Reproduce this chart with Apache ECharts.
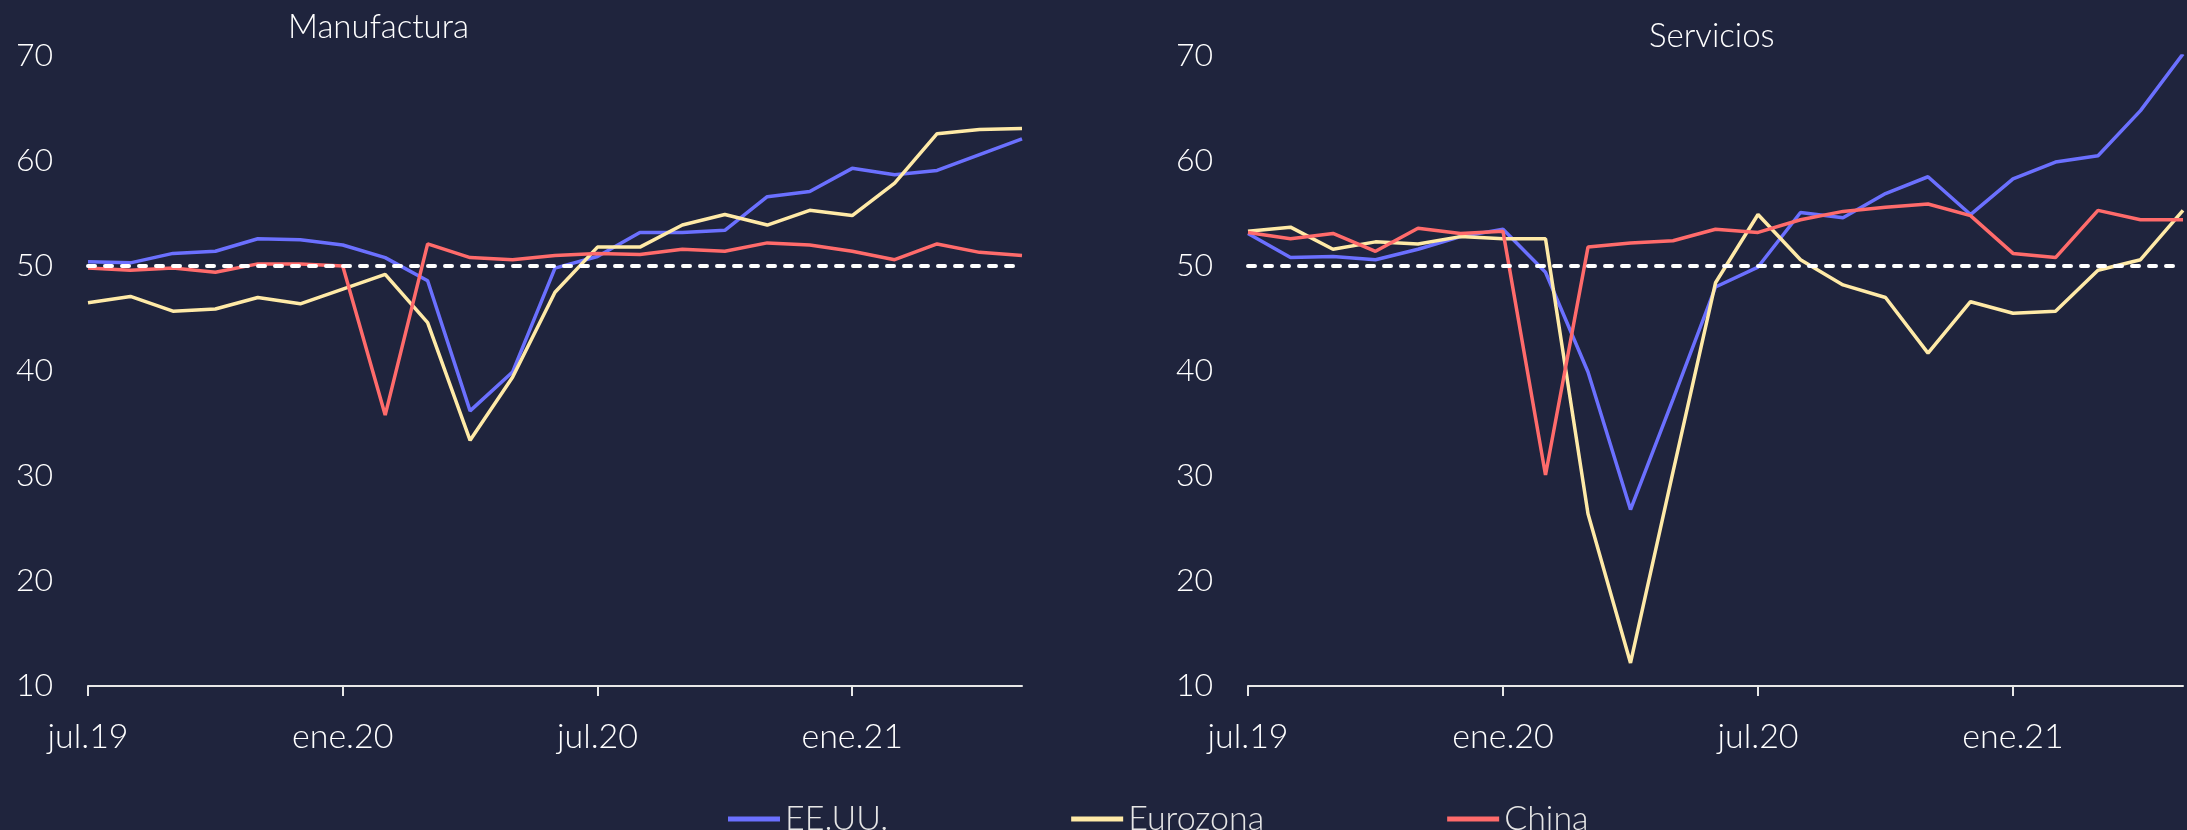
<!DOCTYPE html>
<html>
<head>
<meta charset="utf-8">
<script src="https://cdn.jsdelivr.net/npm/echarts@6/dist/echarts.min.js"></script>
<style>
  html, body { margin: 0; padding: 0; background: #1f243d; }
  #chart { width: 2187px; height: 830px; }
</style>
</head>
<body>
<div id="chart"></div>
<script>
const months = ['jul.19', 'ago.19', 'sep.19', 'oct.19', 'nov.19', 'dic.19', 'ene.20', 'feb.20', 'mar.20', 'abr.20', 'may.20', 'jun.20',
  'jul.20', 'ago.20', 'sep.20', 'oct.20', 'nov.20', 'dic.20', 'ene.21', 'feb.21', 'mar.21', 'abr.21', 'may.21'];

// Manufactura
const usManuf = [50.4, 50.3, 51.2, 51.4, 52.6, 52.5, 52.0, 50.8, 48.6, 36.2, 39.9, 49.8, 50.9, 53.2, 53.2, 53.4, 56.6, 57.1, 59.3, 58.7, 59.1, 60.6, 62.1];
const euManuf = [46.5, 47.1, 45.7, 45.9, 47.0, 46.4, 47.8, 49.2, 44.6, 33.4, 39.4, 47.5, 51.8, 51.8, 53.9, 54.9, 53.9, 55.3, 54.8, 57.9, 62.6, 63.0, 63.1];
const cnManuf = [49.8, 49.6, 49.8, 49.4, 50.2, 50.2, 50.0, 35.8, 52.1, 50.8, 50.6, 51.0, 51.2, 51.1, 51.6, 51.4, 52.2, 52.0, 51.4, 50.6, 52.1, 51.3, 51.0];

// Servicios
const usServ = [53.1, 50.8, 50.9, 50.6, 51.6, 52.8, 53.5, 49.4, 39.9, 26.8, 37.3, 48.0, 49.9, 55.1, 54.6, 56.9, 58.5, 54.9, 58.3, 59.9, 60.5, 64.8, 70.2];
const euServ = [53.3, 53.7, 51.6, 52.3, 52.1, 52.8, 52.6, 52.6, 26.4, 12.2, 30.4, 48.4, 54.9, 50.6, 48.2, 47.0, 41.7, 46.6, 45.5, 45.7, 49.6, 50.6, 55.3];
const cnServ = [53.2, 52.6, 53.1, 51.4, 53.6, 53.1, 53.3, 30.1, 51.8, 52.2, 52.4, 53.5, 53.2, 54.4, 55.2, 55.6, 55.9, 54.8, 51.2, 50.8, 55.3, 54.4, 54.4];

const names = ['EE.UU.', 'Eurozona', 'China'];
const colors = ['#6b70ff', '#ffeaa7', '#ff6b6b'];
const threshold = 50;

const font = 'Lato, "Open Sans", sans-serif';

const chart = echarts.init(document.getElementById('chart'));

const xAxisFor = (idx) => ({
  type: 'category',
  gridIndex: idx,
  data: months,
  boundaryGap: false,
  axisLine: { lineStyle: { color: '#e8e8e8', width: 2 } },
  axisTick: { interval: 5, length: 10, lineStyle: { color: '#e8e8e8', width: 2 } },
  axisLabel: { interval: 5, color: '#ffffff', fontFamily: font, fontSize: 34, fontWeight: 300, margin: 34 }
});

const yAxisFor = (idx) => ({
  type: 'value',
  gridIndex: idx,
  min: 10,
  max: 70,
  interval: 10,
  axisLine: { show: false },
  axisTick: { show: false },
  splitLine: { show: false },
  axisLabel: { color: '#ffffff', fontFamily: font, fontSize: 32, fontWeight: 300, margin: 35 }
});

const lineSeries = (name, data, color, idx, withMark) => ({
  name: name,
  type: 'line',
  xAxisIndex: idx,
  yAxisIndex: idx,
  data: data,
  symbol: 'none',
  lineStyle: { color: color, width: 3.5 },
  itemStyle: { color: color },
  markLine: withMark ? {
    silent: true,
    symbol: 'none',
    label: { show: false },
    lineStyle: { color: '#ffffff', width: 4, type: [7, 10], cap: 'round' },
    data: [{ yAxis: threshold }]
  } : undefined
});

chart.setOption({
  backgroundColor: '#1f243d',
  animation: false,
  title: [
    { text: 'Manufactura', left: 283, top: 6, textStyle: { color: '#ffffff', fontFamily: font, fontSize: 33, fontWeight: 300 } },
    { text: 'Servicios', left: 1644, top: 15, textStyle: { color: '#ffffff', fontFamily: font, fontSize: 33, fontWeight: 300 } }
  ],
  legend: {
    data: names,
    left: 723,
    top: 795,
    itemWidth: 52,
    itemHeight: 5,
    itemGap: 183,
    icon: 'rect',
    textStyle: { color: '#e6e6e6', fontFamily: font, fontSize: 34, fontWeight: 300, lineHeight: 38 }
  },
  grid: [
    { left: 88, right: 1165, top: 56, bottom: 144 },
    { left: 1248, right: 4, top: 56, bottom: 144 }
  ],
  xAxis: [xAxisFor(0), xAxisFor(1)],
  yAxis: [yAxisFor(0), yAxisFor(1)],
  series: [
    lineSeries(names[0], usManuf, colors[0], 0, true),
    lineSeries(names[1], euManuf, colors[1], 0, false),
    lineSeries(names[2], cnManuf, colors[2], 0, false),
    lineSeries(names[0], usServ, colors[0], 1, true),
    lineSeries(names[1], euServ, colors[1], 1, false),
    lineSeries(names[2], cnServ, colors[2], 1, false)
  ]
});

window.addEventListener('resize', () => chart.resize());
</script>
</body>
</html>
